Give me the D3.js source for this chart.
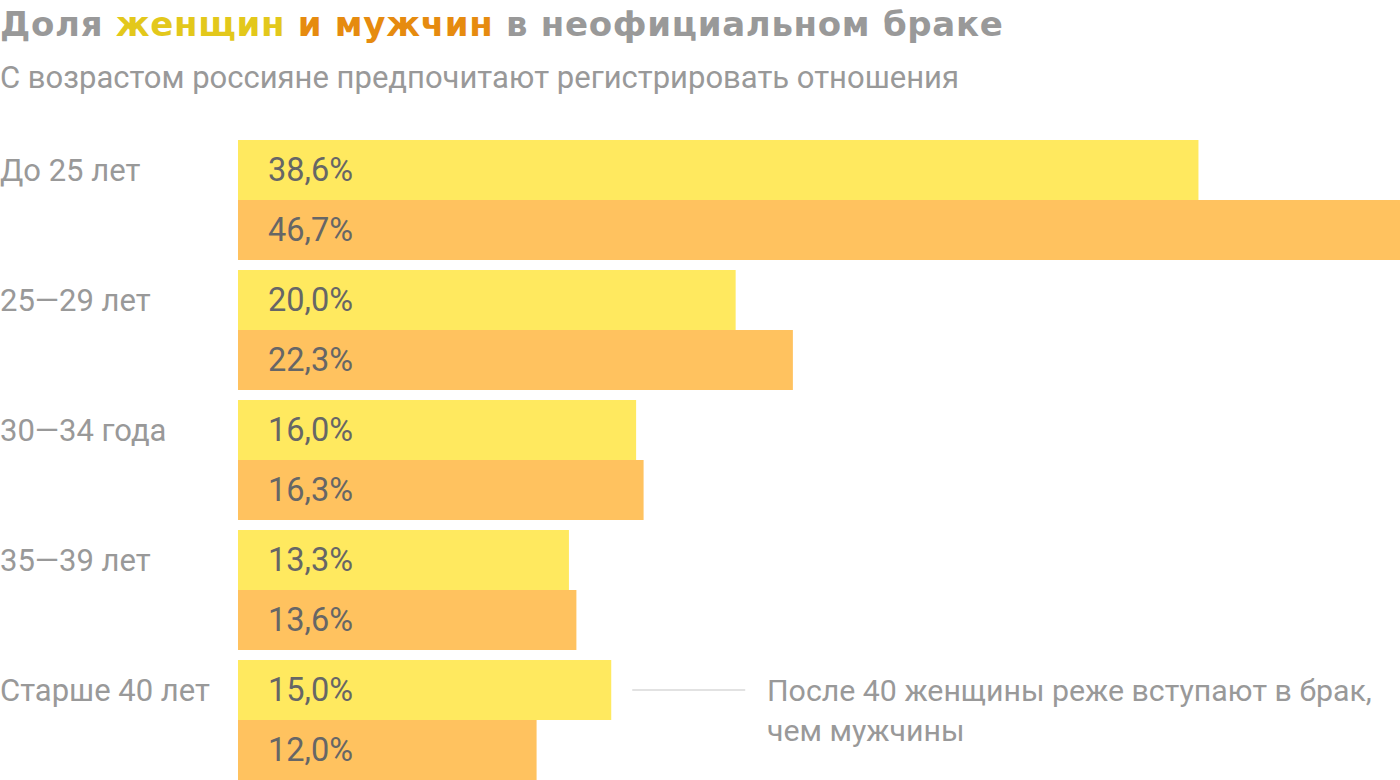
<!DOCTYPE html>
<meta charset="utf-8">
<script src="https://d3js.org/d3.v7.min.js"></script>
<style>
  body { margin: 0; background: #fff; }
  svg text { font-family: Roboto, "Noto Sans", sans-serif; }
</style>
<div id="chart"></div>
<script>
// data
const categories = ["До 25 лет", "25—29 лет", "30—34 года", "35—39 лет", "Старше 40 лет"];
const women = [38.6, 20.0, 16.0, 13.3, 15.0];
const men = [46.7, 22.3, 16.3, 13.6, 12.0];
const seriesNames = ["Женщины", "Мужчины"];

const width = 1400, height = 780;
const barLeft = 238;
const barColors = ["#ffe95f", "#ffc25f"];

const svg = d3.select("#chart").append("svg")
  .attr("width", width)
  .attr("height", height);

// title with coloured words
const title = svg.append("text")
  .attr("x", 0).attr("y", 36)
  .attr("font-size", 34).attr("font-weight", 700)
  .style("font-family", "'DejaVu Sans', sans-serif")
  .style("letter-spacing", "0.7px")
  .attr("fill", "#999");
title.append("tspan").text("Доля ");
title.append("tspan").attr("fill", "#e3c81b").text("женщин");
title.append("tspan").text(" ");
title.append("tspan").attr("fill", "#e68b0f").text("и мужчин");
title.append("tspan").text(" в неофициальном браке");

svg.append("text")
  .attr("x", 0).attr("y", 88)
  .attr("font-size", 31)
  .attr("fill", "#999")
  .text("С возрастом россияне предпочитают регистрировать отношения");

// scales
const x = d3.scaleLinear()
  .domain([0, d3.max(men)])
  .range([barLeft, width]);

const y = d3.scaleBand()
  .domain(categories)
  .range([140, 780])
  .paddingInner(10 / 130)
  .paddingOuter(0);

const sub = d3.scaleBand()
  .domain(seriesNames)
  .range([0, y.bandwidth()]);

const rows = categories.map((c, i) => ({ cat: c, vals: [women[i], men[i]] }));

const g = svg.selectAll("g.group")
  .data(rows)
  .join("g")
  .attr("class", "group")
  .attr("transform", d => `translate(0,${y(d.cat)})`);

g.append("text")
  .attr("x", 0)
  .attr("y", sub.bandwidth() / 2)
  .attr("dy", "0.35em")
  .attr("font-size", 31)
  .attr("fill", "#999")
  .text(d => d.cat);

const bars = g.selectAll("g.bar")
  .data(d => d.vals.map((v, j) => ({ v, s: seriesNames[j], j })))
  .join("g")
  .attr("class", "bar");

bars.append("rect")
  .attr("x", x(0))
  .attr("y", d => sub(d.s))
  .attr("width", d => x(d.v) - x(0))
  .attr("height", sub.bandwidth())
  .attr("fill", d => barColors[d.j]);

bars.append("text")
  .attr("x", x(0) + 30)
  .attr("y", d => sub(d.s) + sub.bandwidth() / 2)
  .attr("dy", "0.35em")
  .attr("font-size", 32.5)
  .attr("fill", "#666")
  .text(d => d.v.toFixed(1).replace(".", ",") + "%");

// annotation for last group
const last = categories.length - 1;
const ay = y(categories[last]) + sub.bandwidth() / 2;
svg.append("line")
  .attr("x1", x(women[last]) + 21).attr("x2", x(women[last]) + 134)
  .attr("y1", ay).attr("y2", ay)
  .attr("stroke", "#d9d9d9").attr("stroke-width", 1.5);

const note = svg.append("text")
  .attr("x", 767).attr("y", ay)
  .attr("dy", "0.35em")
  .attr("font-size", 30.3)
  .attr("fill", "#999");
note.append("tspan").attr("x", 767).text("После 40 женщины реже вступают в брак,");
note.append("tspan").attr("x", 767).attr("dy", 40).text("чем мужчины");
</script>
